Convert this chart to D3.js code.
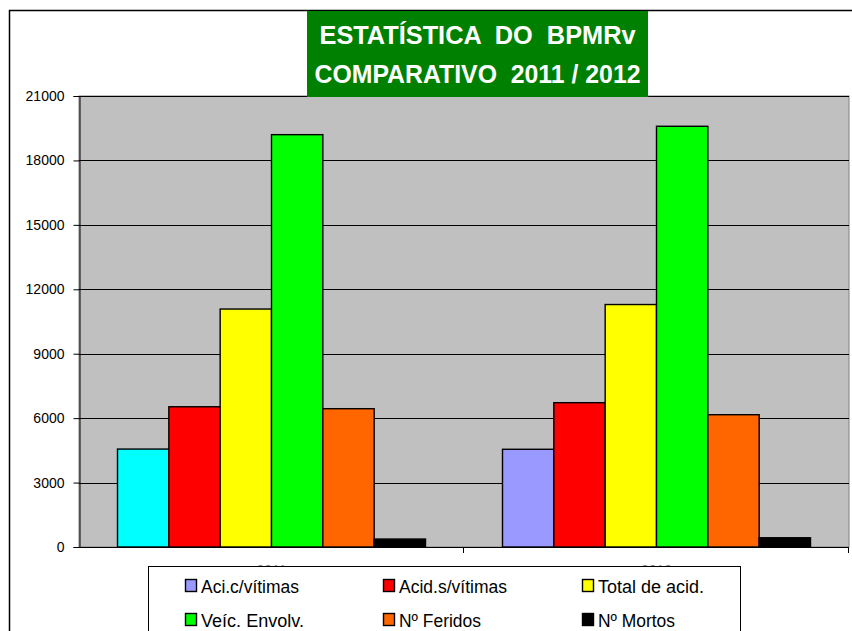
<!DOCTYPE html>
<html>
<head>
<meta charset="utf-8">
<script src="https://cdn.jsdelivr.net/npm/d3@7"></script>
<style>
  body { margin: 0; background: #fff; }
  svg { display: block; }
  text { font-family: "Liberation Sans", Arial, sans-serif; }
</style>
</head>
<body>
<div id="chart"></div>
<script>
// data
const categories = ["2011", "2012"];
const seriesNames = ["Aci.c/vítimas", "Acid.s/vítimas", "Total de acid.", "Veíc. Envolv.", "Nº Feridos", "Nº Mortos"];
const values2011 = [4560, 6530, 11080, 19200, 6440, 370];
const values2012 = [4550, 6720, 11290, 19590, 6160, 430];
const yTicks = [0, 3000, 6000, 9000, 12000, 15000, 18000, 21000];
const seriesColors = ["#9999FF", "#FF0000", "#FFFF00", "#00FF00", "#FF6600", "#000000"];
const titleLines = ["ESTATÍSTICA  DO  BPMRv", "COMPARATIVO  2011 / 2012"];

const width = 852, height = 631;
const plot = { left: 79, right: 849, top: 96, bottom: 547 };

const svg = d3.select("#chart").append("svg")
  .attr("width", width)
  .attr("height", height);

// outer chart border
svg.append("rect")
  .attr("x", 9.5).attr("y", 10.5)
  .attr("width", 900).attr("height", 700)
  .attr("fill", "#fff")
  .attr("stroke", "#000")
  .attr("stroke-width", 1.5);

// scales
const x0 = d3.scaleBand().domain(categories).range([plot.left, plot.right]);
const x1 = d3.scaleBand().domain(seriesNames).range([0, x0.bandwidth()])
  .paddingInner(0).paddingOuter(0.75);
const y = d3.scaleLinear().domain([0, 21000]).range([plot.bottom, plot.top]);

// plot area
svg.append("rect")
  .attr("x", plot.left).attr("y", plot.top)
  .attr("width", plot.right - plot.left).attr("height", plot.bottom - plot.top)
  .attr("fill", "#C0C0C0")
  .attr("stroke", "#808080");

// gridlines
svg.append("g")
  .selectAll("line")
  .data(yTicks.filter(d => d > 0))
  .enter().append("line")
  .attr("x1", plot.left).attr("x2", plot.right)
  .attr("y1", d => Math.round(y(d)) + 0.5).attr("y2", d => Math.round(y(d)) + 0.5)
  .attr("stroke", "#000");

// bars
const rows = [values2011, values2012];
const groups = svg.append("g").selectAll("g")
  .data(categories)
  .enter().append("g")
  .attr("transform", d => "translate(" + x0(d) + ",0)");

groups.selectAll("rect")
  .data((c, ci) => seriesNames.map((s, si) => ({ cat: c, ci: ci, s: s, si: si, v: rows[ci][si] })))
  .enter().append("rect")
  .attr("x", d => x1(d.s))
  .attr("y", d => y(d.v))
  .attr("width", x1.bandwidth())
  .attr("height", d => y(0) - y(d.v))
  // first bar of 2011 has its own colour in the original
  .attr("fill", d => (d.ci === 0 && d.si === 0) ? "#00FFFF" : seriesColors[d.si])
  .attr("stroke", "#000")
  .attr("stroke-width", 1.4);

// y axis
const yAxis = d3.axisLeft(y).tickValues(yTicks).tickSize(6).tickPadding(9)
  .tickFormat(d3.format("d"));
svg.append("g")
  .attr("transform", "translate(" + (plot.left + 0.5) + ",0)")
  .call(yAxis)
  .call(g => g.select(".domain").attr("stroke", "#000"))
  .call(g => g.selectAll("text").attr("font-size", "14px").attr("fill", "#000"));

// x axis line + category tick marks
svg.append("line")
  .attr("x1", plot.left).attr("x2", plot.right)
  .attr("y1", plot.bottom + 0.5).attr("y2", plot.bottom + 0.5)
  .attr("stroke", "#000");
svg.append("g").selectAll("line")
  .data(categories.slice(1).map(c => x0(c)).concat([plot.right]))
  .enter().append("line")
  .attr("x1", d => Math.round(d) - 0.5).attr("x2", d => Math.round(d) - 0.5)
  .attr("y1", plot.bottom).attr("y2", plot.bottom + 6)
  .attr("stroke", "#000");

// category labels (mostly hidden by the legend)
svg.append("g").selectAll("text")
  .data(categories)
  .enter().append("text")
  .attr("x", d => x0(d) + x0.bandwidth() / 2)
  .attr("y", 575)
  .attr("text-anchor", "middle")
  .attr("font-size", "14px")
  .attr("fill", "#888")
  .text(d => d);

// title box
const titleBox = { x: 307, y: 11, w: 341, h: 86 };
svg.append("rect")
  .attr("x", titleBox.x).attr("y", titleBox.y)
  .attr("width", titleBox.w).attr("height", titleBox.h)
  .attr("fill", "#008000");
const titleWidths = [316, 326];
svg.append("g").selectAll("text")
  .data(titleLines)
  .enter().append("text")
  .attr("x", titleBox.x + titleBox.w / 2)
  .attr("y", (d, i) => 44 + i * 39)
  .attr("text-anchor", "middle")
  .attr("font-size", "26.5px")
  .attr("font-weight", "bold")
  .attr("fill", "#fff")
  .attr("textLength", (d, i) => titleWidths[i])
  .attr("lengthAdjust", "spacingAndGlyphs")
  .style("white-space", "pre")
  .text(d => d);

// legend
svg.append("rect")
  .attr("x", 148.5).attr("y", 566.5)
  .attr("width", 592).attr("height", 100)
  .attr("fill", "#fff")
  .attr("stroke", "#000");

const legendCols = [185, 383, 582];
const legendRows = [579, 613];
const legendWidths = [98, 108, 106, 103, 82, 77];
const legend = svg.append("g").selectAll("g")
  .data(seriesNames)
  .enter().append("g")
  .attr("transform", (d, i) => "translate(" + legendCols[i % 3] + "," + legendRows[Math.floor(i / 3)] + ")");

legend.append("rect")
  .attr("x", 0.5).attr("y", 0.5)
  .attr("width", 11).attr("height", 12)
  .attr("fill", (d, i) => seriesColors[i])
  .attr("stroke", "#000")
  .attr("stroke-width", 1.4);

legend.append("text")
  .attr("x", 16)
  .attr("y", 13.5)
  .attr("font-size", "17.5px")
  .attr("textLength", (d, i) => legendWidths[i])
  .attr("lengthAdjust", "spacingAndGlyphs")
  .text(d => d);
</script>
</body>
</html>
